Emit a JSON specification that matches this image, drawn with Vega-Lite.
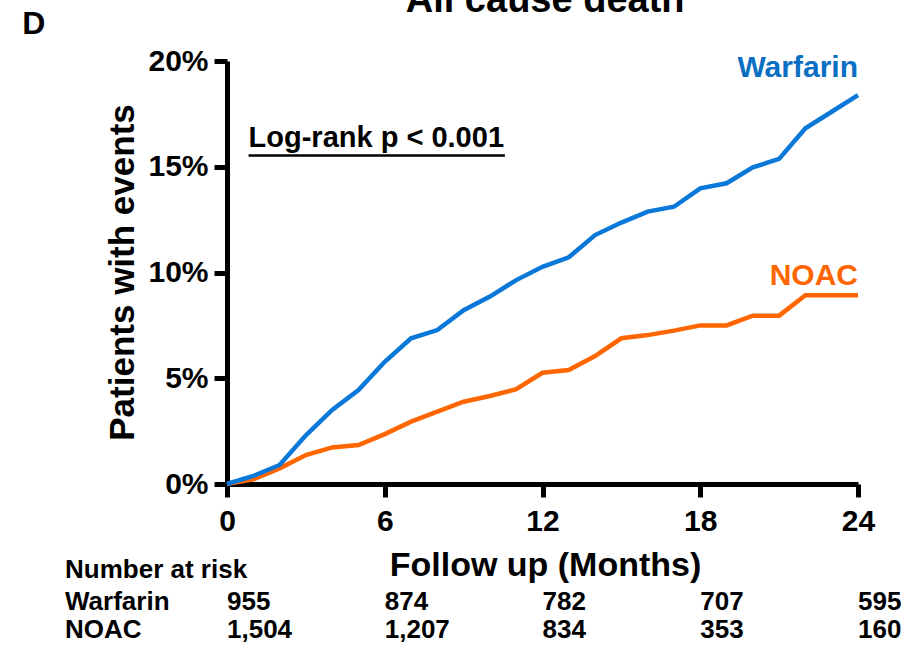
{
  "$schema": "https://vega.github.io/schema/vega-lite/v6.json",
  "width": 631,
  "height": 423,
  "autosize": {"type": "none"},
  "padding": {"left": 227, "top": 61, "right": 57, "bottom": 163},
  "background": "white",
  "config": {
    "view": {"stroke": null},
    "font": "Liberation Sans",
    "axis": {
      "domainColor": "black",
      "domainWidth": 5,
      "tickColor": "black",
      "tickWidth": 5,
      "tickSize": 13,
      "labelColor": "black",
      "titleColor": "black",
      "labelFont": "Liberation Sans",
      "titleFont": "Liberation Sans",
      "labelFontWeight": "bold",
      "titleFontWeight": "bold",
      "labelFontSize": 30,
      "grid": false,
      "labelOverlap": false,
      "labelFlush": false
    },
    "text": {"font": "Liberation Sans", "fontWeight": "bold"}
  },
  "datasets": {
    "km": [
      {"group": "NOAC", "month": 0, "pct": 0},
      {"group": "NOAC", "month": 1, "pct": 0.22},
      {"group": "NOAC", "month": 2, "pct": 0.74},
      {"group": "NOAC", "month": 3, "pct": 1.37},
      {"group": "NOAC", "month": 4, "pct": 1.73},
      {"group": "NOAC", "month": 5, "pct": 1.84},
      {"group": "NOAC", "month": 6, "pct": 2.36},
      {"group": "NOAC", "month": 7, "pct": 2.95},
      {"group": "NOAC", "month": 8, "pct": 3.42},
      {"group": "NOAC", "month": 9, "pct": 3.89},
      {"group": "NOAC", "month": 10, "pct": 4.16},
      {"group": "NOAC", "month": 11, "pct": 4.48},
      {"group": "NOAC", "month": 12, "pct": 5.26},
      {"group": "NOAC", "month": 13, "pct": 5.39},
      {"group": "NOAC", "month": 14, "pct": 6.05},
      {"group": "NOAC", "month": 15, "pct": 6.89},
      {"group": "NOAC", "month": 16, "pct": 7.04},
      {"group": "NOAC", "month": 17, "pct": 7.25},
      {"group": "NOAC", "month": 18, "pct": 7.5},
      {"group": "NOAC", "month": 19, "pct": 7.5},
      {"group": "NOAC", "month": 20, "pct": 7.96},
      {"group": "NOAC", "month": 21, "pct": 7.96},
      {"group": "NOAC", "month": 22, "pct": 8.92},
      {"group": "NOAC", "month": 23, "pct": 8.92},
      {"group": "NOAC", "month": 24, "pct": 8.92},
      {"group": "Warfarin", "month": 0, "pct": 0},
      {"group": "Warfarin", "month": 1, "pct": 0.38},
      {"group": "Warfarin", "month": 2, "pct": 0.9},
      {"group": "Warfarin", "month": 3, "pct": 2.3},
      {"group": "Warfarin", "month": 4, "pct": 3.5},
      {"group": "Warfarin", "month": 5, "pct": 4.44},
      {"group": "Warfarin", "month": 6, "pct": 5.78},
      {"group": "Warfarin", "month": 7, "pct": 6.89},
      {"group": "Warfarin", "month": 8, "pct": 7.28},
      {"group": "Warfarin", "month": 9, "pct": 8.22},
      {"group": "Warfarin", "month": 10, "pct": 8.86},
      {"group": "Warfarin", "month": 11, "pct": 9.64},
      {"group": "Warfarin", "month": 12, "pct": 10.27},
      {"group": "Warfarin", "month": 13, "pct": 10.72},
      {"group": "Warfarin", "month": 14, "pct": 11.77},
      {"group": "Warfarin", "month": 15, "pct": 12.36},
      {"group": "Warfarin", "month": 16, "pct": 12.88},
      {"group": "Warfarin", "month": 17, "pct": 13.11},
      {"group": "Warfarin", "month": 18, "pct": 13.98},
      {"group": "Warfarin", "month": 19, "pct": 14.22},
      {"group": "Warfarin", "month": 20, "pct": 14.97},
      {"group": "Warfarin", "month": 21, "pct": 15.37},
      {"group": "Warfarin", "month": 22, "pct": 16.82},
      {"group": "Warfarin", "month": 23, "pct": 17.6},
      {"group": "Warfarin", "month": 24, "pct": 18.39}
    ],
    "risk": [
      {"group": "Warfarin", "month": 0, "n": "955"},
      {"group": "Warfarin", "month": 6, "n": "874"},
      {"group": "Warfarin", "month": 12, "n": "782"},
      {"group": "Warfarin", "month": 18, "n": "707"},
      {"group": "Warfarin", "month": 24, "n": "595"},
      {"group": "NOAC", "month": 0, "n": "1,504"},
      {"group": "NOAC", "month": 6, "n": "1,207"},
      {"group": "NOAC", "month": 12, "n": "834"},
      {"group": "NOAC", "month": 18, "n": "353"},
      {"group": "NOAC", "month": 24, "n": "160"}
    ]
  },
  "layer": [
    {
      "data": {"name": "km"},
      "mark": {"type": "line", "strokeWidth": 4.5, "clip": false},
      "encoding": {
        "x": {
          "field": "month", "type": "quantitative", "title": "Follow up (Months)",
          "scale": {"domain": [0, 24], "nice": false},
          "axis": {
            "values": [0, 6, 12, 18, 24],
            "title": "Follow up (Months)",
            "titleFontSize": 34,
            "titleX": 318,
            "titleY": 91,
            "titleBaseline": "alphabetic",
            "titleAlign": "center",
            "labelPadding": 9
          }
        },
        "y": {
          "field": "pct", "type": "quantitative", "title": "Patients with events",
          "scale": {"domain": [0, 20], "nice": false},
          "axis": {
            "values": [0, 5, 10, 15, 20],
            "labelExpr": "datum.value + '%'",
            "title": "Patients with events",
            "titleFontSize": 35,
            "titleAngle": -90,
            "titleX": -94,
            "titleY": 211,
            "titleBaseline": "alphabetic",
            "titleAlign": "center",
            "labelPadding": 6
          }
        },
        "color": {
          "field": "group", "type": "nominal",
          "scale": {"domain": ["Warfarin", "NOAC"], "range": ["#0a78d8", "#ff6600"]},
          "legend": null
        },
        "order": {"field": "month", "type": "quantitative"}
      }
    },
    {
      "data": {"values": [{"label": "All cause death"}]},
      "mark": {"type": "text", "fontSize": 38, "align": "center", "baseline": "alphabetic", "color": "black"},
      "encoding": {
        "x": {"datum": 12.1, "type": "quantitative"},
        "y": {"datum": 22.32, "type": "quantitative"},
        "text": {"field": "label"}
      }
    },
    {
      "data": {"values": [{"label": "D"}]},
      "mark": {"type": "text", "fontSize": 32, "align": "left", "baseline": "alphabetic", "color": "black"},
      "encoding": {
        "x": {"datum": -7.79, "type": "quantitative"},
        "y": {"datum": 21.28, "type": "quantitative"},
        "text": {"field": "label"}
      }
    },
    {
      "data": {"values": [{"label": "Warfarin"}]},
      "mark": {"type": "text", "fontSize": 30, "align": "right", "baseline": "alphabetic", "color": "#0a6fc2"},
      "encoding": {
        "x": {"datum": 24, "type": "quantitative"},
        "y": {"datum": 19.24, "type": "quantitative"},
        "text": {"field": "label"}
      }
    },
    {
      "data": {"values": [{"label": "NOAC"}]},
      "mark": {"type": "text", "fontSize": 30, "align": "right", "baseline": "alphabetic", "color": "#ff6600"},
      "encoding": {
        "x": {"datum": 24, "type": "quantitative"},
        "y": {"datum": 9.41, "type": "quantitative"},
        "text": {"field": "label"}
      }
    },
    {
      "data": {"values": [{"label": "Log-rank p < 0.001"}]},
      "mark": {"type": "text", "fontSize": 29, "align": "left", "baseline": "alphabetic", "color": "black"},
      "encoding": {
        "x": {"datum": 0.82, "type": "quantitative"},
        "y": {"datum": 15.93, "type": "quantitative"},
        "text": {"field": "label"}
      }
    },
    {
      "data": {"values": [{"label": "underline"}]},
      "mark": {"type": "rule", "strokeWidth": 2.5, "color": "black"},
      "encoding": {
        "x": {"datum": 0.82, "type": "quantitative"},
        "x2": {"datum": 10.57},
        "y": {"datum": 15.53, "type": "quantitative"}
      }
    },
    {
      "data": {"values": [{"label": "Number at risk"}]},
      "mark": {"type": "text", "fontSize": 26, "align": "left", "baseline": "alphabetic", "color": "black"},
      "encoding": {
        "x": {"datum": -6.16, "type": "quantitative"},
        "y": {"datum": -4.44, "type": "quantitative"},
        "text": {"field": "label"}
      }
    },
    {
      "data": {"values": [{"label": "Warfarin"}]},
      "mark": {"type": "text", "fontSize": 26, "align": "left", "baseline": "alphabetic", "color": "black"},
      "encoding": {
        "x": {"datum": -6.16, "type": "quantitative"},
        "y": {"datum": -5.96, "type": "quantitative"},
        "text": {"field": "label"}
      }
    },
    {
      "data": {"values": [{"label": "NOAC"}]},
      "mark": {"type": "text", "fontSize": 26, "align": "left", "baseline": "alphabetic", "color": "black"},
      "encoding": {
        "x": {"datum": -6.16, "type": "quantitative"},
        "y": {"datum": -7.28, "type": "quantitative"},
        "text": {"field": "label"}
      }
    },
    {
      "data": {"name": "risk"},
      "transform": [{"filter": "datum.group === 'Warfarin'"}],
      "mark": {"type": "text", "fontSize": 26, "align": "left", "baseline": "alphabetic", "color": "black"},
      "encoding": {
        "x": {"field": "month", "type": "quantitative"},
        "y": {"datum": -5.96, "type": "quantitative"},
        "text": {"field": "n"}
      }
    },
    {
      "data": {"name": "risk"},
      "transform": [{"filter": "datum.group === 'NOAC'"}],
      "mark": {"type": "text", "fontSize": 26, "align": "left", "baseline": "alphabetic", "color": "black"},
      "encoding": {
        "x": {"field": "month", "type": "quantitative"},
        "y": {"datum": -7.28, "type": "quantitative"},
        "text": {"field": "n"}
      }
    }
  ]
}
